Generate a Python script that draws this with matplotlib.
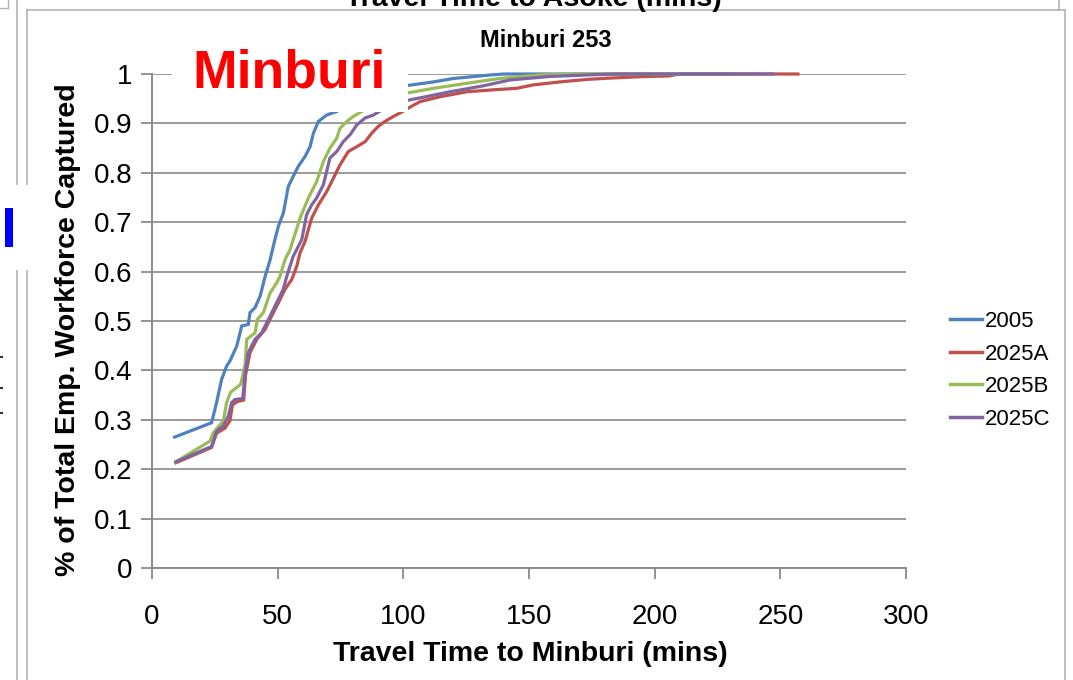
import matplotlib
matplotlib.use("Agg")
import matplotlib.pyplot as plt
from matplotlib.patches import Rectangle
from matplotlib.lines import Line2D

plt.rcParams['font.family'] = ['Liberation Sans', 'DejaVu Sans']

# ---------------- data ----------------
series_names = ["2005", "2025A", "2025B", "2025C"]
series_colors = ["#4F81BD", "#C0504D", "#9BBB59", "#8064A2"]

t_2005 = [9, 23.7, 25.7, 27.7, 29.7, 31, 33.7, 35.7, 38.3, 39, 41, 43, 45, 47, 48.9,
          50.3, 52.3, 54.2, 56.2, 58.2, 60.9, 62.9, 64.2, 66.2, 69.5, 73.5, 80, 90,
          102, 112, 120, 134.5, 140, 230]
p_2005 = [0.265, 0.294, 0.335, 0.382, 0.409, 0.419, 0.449, 0.49, 0.493, 0.517, 0.527,
          0.55, 0.59, 0.624, 0.665, 0.692, 0.719, 0.772, 0.793, 0.813, 0.833, 0.853,
          0.88, 0.904, 0.917, 0.924, 0.945, 0.965, 0.977, 0.984, 0.991, 0.998, 1.0, 1.0]

t_2025A = [9.5, 23.7, 25.7, 29, 31, 32, 34, 36.5, 37.2, 39, 41.7, 45, 47.6, 50.3, 52.9,
           55.6, 57.6, 58.9, 60.9, 63.5, 66.2, 69.5, 71.5, 73.5, 74.8, 78.1, 81.5, 84.8,
           87.4, 90, 92.7, 96, 98.7, 102, 106.6, 114.6, 125.2, 135.8, 145.1, 151.7,
           162.4, 173, 179.5, 187.6, 196.8, 205.5, 210, 257]
p_2025A = [0.213, 0.244, 0.273, 0.283, 0.298, 0.33, 0.337, 0.34, 0.39, 0.436, 0.463,
           0.483, 0.51, 0.537, 0.564, 0.584, 0.611, 0.638, 0.661, 0.708, 0.735, 0.762,
           0.782, 0.803, 0.816, 0.843, 0.853, 0.863, 0.88, 0.894, 0.904, 0.914, 0.921,
           0.931, 0.944, 0.954, 0.964, 0.968, 0.971, 0.978, 0.984, 0.989, 0.991, 0.993,
           0.995, 0.996, 1.0, 1.0]

t_2025B = [9.5, 23.1, 24.4, 28.4, 29.7, 31.3, 35.3, 37, 37.7, 41, 41.9, 44.3, 47, 49.6,
           50.9, 52.9, 54.9, 56.2, 58.9, 62.2, 65.5, 68.2, 70.8, 73.5, 74.8, 77.5, 80.1,
           83.4, 92, 102, 112, 125, 138.5, 154, 170, 240]
p_2025B = [0.215, 0.257, 0.274, 0.298, 0.335, 0.356, 0.372, 0.41, 0.463, 0.476, 0.503,
           0.517, 0.557, 0.577, 0.59, 0.624, 0.644, 0.665, 0.708, 0.749, 0.782, 0.823,
           0.85, 0.87, 0.89, 0.904, 0.914, 0.924, 0.945, 0.962, 0.971, 0.981, 0.991,
           0.998, 1.0, 1.0]

t_2025C = [9.5, 23.7, 25.7, 28.4, 30.4, 31.7, 33, 36.1, 37, 38.3, 41, 43.6, 47, 49.6,
           52.2, 53.6, 54.9, 56.2, 58.2, 59.6, 61.5, 63.5, 65.5, 68.2, 70.8, 73.5, 76.1,
           78.8, 81.5, 84.8, 88.1, 91.4, 96, 102, 108, 118.6, 131.8, 142.5, 158.4, 178,
           185, 247]
p_2025C = [0.215, 0.246, 0.277, 0.288, 0.308, 0.335, 0.341, 0.343, 0.393, 0.436, 0.463,
           0.476, 0.51, 0.537, 0.564, 0.59, 0.611, 0.631, 0.651, 0.665, 0.715, 0.735,
           0.749, 0.776, 0.83, 0.843, 0.863, 0.877, 0.897, 0.911, 0.917, 0.927, 0.937,
           0.947, 0.953, 0.964, 0.976, 0.988, 0.995, 0.999, 1.0, 1.0]

x_ticks = [0, 50, 100, 150, 200, 250, 300]
y_ticks = [0, 0.1, 0.2, 0.3, 0.4, 0.5, 0.6, 0.7, 0.8, 0.9, 1.0]
y_tick_labels = ["0", "0.1", "0.2", "0.3", "0.4", "0.5", "0.6", "0.7", "0.8", "0.9", "1"]

chart_title = "Minburi 253"
x_title = "Travel Time to Minburi (mins)"
y_title = "% of Total Emp. Workforce Captured"
overlay_label = "Minburi"
prev_title = "Travel Time to Asoke (mins)"

# ---------------- figure ----------------
W, H = 1073, 680
fig = plt.figure(figsize=(W / 100, H / 100), dpi=100)
fig.patch.set_facecolor("white")


def fx(px):
    return px / W


def fy(py):
    return 1 - py / H


GRAY = "#8A8A8A"
BORDER = "#B4B4B4"

ax = fig.add_axes([fx(152), fy(568), fx(906) - fx(152), fy(74) - fy(568)])
ax.set_xlim(0, 300)
ax.set_ylim(0, 1)
ax.set_xticks(x_ticks)
ax.set_yticks(y_ticks)
ax.set_yticklabels(y_tick_labels)
ax.tick_params(axis="y", direction="out", length=8, width=1.3, color=GRAY, pad=6,
               labelsize=20)
ax.tick_params(axis="x", direction="out", length=8, width=1.3, color=GRAY, pad=18,
               labelsize=20)
for s in ["top", "right"]:
    ax.spines[s].set_visible(False)
for s in ["left", "bottom"]:
    ax.spines[s].set_color(GRAY)
    ax.spines[s].set_linewidth(1.4)
ax.grid(axis="y", color=GRAY, linewidth=1.2)
ax.set_axisbelow(True)

all_t = [t_2005, t_2025A, t_2025B, t_2025C]
all_p = [p_2005, p_2025A, p_2025B, p_2025C]
for t, p, name, c in zip(all_t, all_p, series_names, series_colors):
    ax.plot(t, p, color=c, linewidth=2.3, label=name, clip_on=False,
            solid_joinstyle="miter")

leg = fig.legend(loc="center left", bbox_to_anchor=(fx(950), fy(370.5)),
                 frameon=False, fontsize=16, handlelength=1.45, handletextpad=0.1,
                 labelspacing=0.52, borderpad=0, borderaxespad=0)
for h in leg.legend_handles:
    h.set_linewidth(2.5)

# titles
fig.text(fx(546), fy(47), chart_title, ha="center", va="baseline", fontsize=17,
         fontweight="bold")
fig.text(fx(530), fy(661), x_title, ha="center", va="baseline", fontsize=20.5,
         fontweight="bold")
fig.text(fx(68), fy(330), y_title, ha="center", va="center", rotation=90,
         fontsize=20.5, fontweight="bold")

# previous chart's title (cut off at top, as in the reference)
fig.text(fx(533), fy(6), prev_title, ha="center", va="baseline", fontsize=20.5,
         fontweight="bold")

# chart area border
fig.add_artist(Line2D([fx(27), fx(1065)], [fy(10), fy(10)], color=BORDER, lw=1.2))
fig.add_artist(Line2D([fx(1065), fx(1065)], [fy(10), fy(690)], color=BORDER, lw=1.2))
fig.add_artist(Line2D([fx(27), fx(27)], [fy(10), fy(690)], color=BORDER, lw=1.2))
fig.add_artist(Line2D([fx(17), fx(17)], [fy(0), fy(690)], color=BORDER, lw=1.2))
fig.add_artist(Line2D([fx(1059), fx(1059)], [fy(0), fy(10)], color=BORDER, lw=1.2))
fig.add_artist(Line2D([fx(0), fx(8)], [fy(8), fy(8)], color=BORDER, lw=1.0))
fig.add_artist(Line2D([fx(8), fx(8)], [fy(0), fy(8)], color=BORDER, lw=1.0))

# white overlay at left with blue marker
fig.add_artist(Rectangle((fx(0), fy(270)), fx(31), fy(185) - fy(270),
                         facecolor="white", edgecolor="none", zorder=6))
fig.add_artist(Rectangle((fx(5), fy(247)), fx(13) - fx(5), fy(208) - fy(247),
                         facecolor="#0000FF", edgecolor="none", zorder=7))
for yy in [357, 388, 413]:
    fig.add_artist(Line2D([fx(0), fx(2)], [fy(yy), fy(yy)], color="#333333", lw=1.5,
                          zorder=7))

# red "Minburi" label on white box
fig.add_artist(Rectangle((fx(172), fy(112)), fx(408) - fx(172), fy(40) - fy(112),
                         facecolor="white", edgecolor="none", zorder=8))
fig.text(fx(289), fy(88), overlay_label, ha="center", va="baseline", fontsize=38.5,
         fontweight="bold", color="#FF0000", zorder=9)

fig.savefig("out.png", dpi=100, facecolor="white")
